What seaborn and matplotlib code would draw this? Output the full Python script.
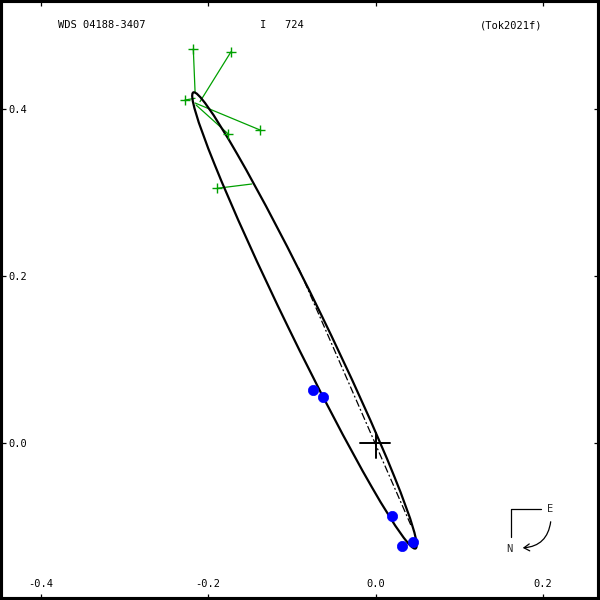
import numpy as np
import pandas as pd
import matplotlib
matplotlib.use("Agg")
import matplotlib.pyplot as plt
from matplotlib.patches import Ellipse, FancyArrowPatch
import seaborn as sns

# ---------------- data ----------------
# visual (micrometer) measurements: observed positions and predicted positions
vis_obs_x = [-0.2176, -0.1725, -0.2275, -0.1379, -0.1758, -0.1889]
vis_obs_y = [0.4713, 0.4681, 0.4103, 0.3744, 0.3696, 0.3047]
vis_pred_x = [-0.2155, -0.2096, -0.2155, -0.2155, -0.2143, -0.1478]
vis_pred_y = [0.4202, 0.4083, 0.4123, 0.4067, 0.4043, 0.3098]

# speckle / interferometric measurements
spk_x = [-0.0743, -0.0623, 0.0193, 0.0313, 0.0442]
spk_y = [0.0634, 0.0547, -0.0873, -0.1238, -0.1181]

# apparent orbit ellipse (centre, semi-axes, position angle of major axis)
orbit_center = (-0.0849, 0.1466)
orbit_semi_major = 0.3033
orbit_semi_minor = 0.0210
orbit_angle_deg = -64.06

# line of nodes
nodes_x = [-0.0919, 0.0421]
nodes_y = [0.2093, -0.0981]

# primary star cross
primary_h_x = [-0.0185, 0.0173]
primary_h_y = [0.0, 0.0]
primary_v_x = [0.0, 0.0]
primary_v_y = [0.012, -0.018]

xticks = [-0.4, -0.2, 0.0, 0.2]
xtick_labels = ["-0.4", "-0.2", "0.0", "0.2"]
yticks = [0.0, 0.2, 0.4]
ytick_labels = ["0.0", "0.2", "0.4"]

header_left = "WDS 04188-3407"
header_mid = "I   724"
header_right = "(Tok2021f)"

xlim = (-0.4484, 0.2680)
ylim = (-0.1878, 0.5299)

GREEN = "#00a000"
BLUE = "#0000ff"
MONO = "DejaVu Sans Mono"

# ---------------- plot ----------------
sns.set_style("white")
plt.rcParams["font.family"] = [MONO, "DejaVu Sans"]

fig = plt.figure(figsize=(6, 6), dpi=100)
ax = fig.add_axes([0, 0, 1, 1])
ax.set_xlim(*xlim)
ax.set_ylim(*ylim)

# orbit ellipse
ell = Ellipse(orbit_center, 2 * orbit_semi_major, 2 * orbit_semi_minor,
              angle=orbit_angle_deg, fill=False, edgecolor="black", linewidth=1.6, zorder=3)
ax.add_patch(ell)

# line of nodes
ax.plot(nodes_x, nodes_y, color="black", linewidth=0.9, linestyle=(0, (6, 2, 1.5, 2)), zorder=2)

# primary star
ax.plot(primary_h_x, primary_h_y, color="black", linewidth=1.4, zorder=4)
ax.plot(primary_v_x, primary_v_y, color="black", linewidth=1.4, zorder=4)

# O-C lines for visual observations
for ox, oy, px_, py_ in zip(vis_obs_x, vis_obs_y, vis_pred_x, vis_pred_y):
    ax.plot([ox, px_], [oy, py_], color=GREEN, linewidth=0.9, zorder=2)

vis_df = pd.DataFrame({"x": vis_obs_x, "y": vis_obs_y})
sns.scatterplot(data=vis_df, x="x", y="y", marker="+", color=GREEN, s=45,
                linewidth=1.0, ax=ax, zorder=5, legend=False)

spk_df = pd.DataFrame({"x": spk_x, "y": spk_y})
sns.scatterplot(data=spk_df, x="x", y="y", marker="o", color=BLUE, s=55,
                edgecolor=BLUE, linewidth=0.5, ax=ax, zorder=6, legend=False)

ax.set_xlabel("")
ax.set_ylabel("")

# ticks
ax.set_xticks(xticks)
ax.set_xticklabels(xtick_labels)
ax.set_yticks(yticks)
ax.set_yticklabels(ytick_labels)
ax.tick_params(axis="both", which="both", direction="in", length=4.5, width=0.9,
               colors="black", labelsize=7.5,
               top=True, bottom=True, left=True, right=True,
               labeltop=False, labelright=False)
ax.tick_params(axis="x", pad=-15)
ax.tick_params(axis="y", pad=-6)
for lbl in ax.get_yticklabels():
    lbl.set_horizontalalignment("left")
    lbl.set_fontfamily(MONO)
for lbl in ax.get_xticklabels():
    lbl.set_fontfamily(MONO)

for sp in ax.spines.values():
    sp.set_visible(True)
    sp.set_color("black")
    sp.set_linewidth(4.4)

# header
def px2ax(px, py):
    return px / 600.0, 1 - py / 600.0

for txt, xp in [(header_left, 57.5), (header_mid, 259.5), (header_right, 480)]:
    fx, fy = px2ax(xp, 25)
    ax.text(fx, fy, txt, transform=ax.transAxes, fontsize=7.5, family=MONO,
            ha="left", va="center", color="black")

# compass
p0 = px2ax(511, 509)
p1 = px2ax(541, 509)
p2 = px2ax(511, 537)
ax.plot([p1[0], p0[0], p2[0]], [p1[1], p0[1], p2[1]], color="black",
        linewidth=0.9, transform=ax.transAxes, zorder=5)
ex, ey = px2ax(550, 509)
ax.text(ex, ey, "E", transform=ax.transAxes, fontsize=7.5, family=MONO, ha="center", va="center")
nx_, ny_ = px2ax(509, 549)
ax.text(nx_, ny_, "N", transform=ax.transAxes, fontsize=7.5, family=MONO, ha="center", va="center")
a_start = px2ax(551, 519)
a_end = px2ax(520, 548)
arrow = FancyArrowPatch(a_start, a_end, transform=ax.transAxes,
                        connectionstyle="arc3,rad=-0.45", arrowstyle="->,head_length=4,head_width=2.5",
                        color="black", linewidth=0.9, zorder=5)
ax.add_patch(arrow)

fig.savefig("out.png", dpi=100)
